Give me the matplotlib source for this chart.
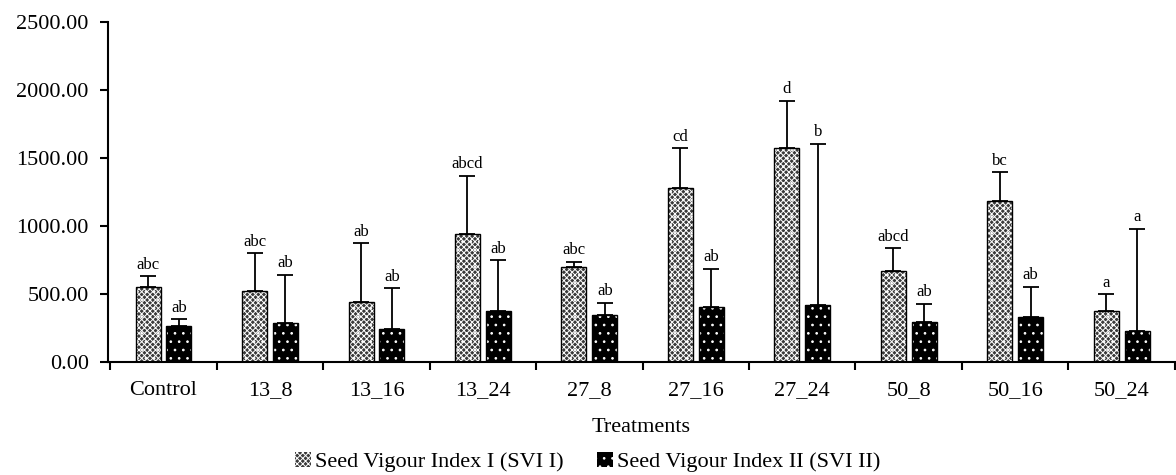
import numpy as np
import matplotlib
matplotlib.use("Agg")
import matplotlib.pyplot as plt
from matplotlib.patches import Patch

plt.rcParams['font.family'] = 'Liberation Serif'
plt.rcParams['hatch.linewidth'] = 0.7

# data:
# ------------------------
treatments = ['Control', '13_8', '13_16', '13_24', '27_8', '27_16', '27_24', '50_8', '50_16', '50_24']
svi1 = [549, 522, 443, 939, 701, 1277, 1571, 671, 1181, 377]
svi1_top = [632, 799, 875, 1368, 738, 1570, 1921, 838, 1395, 497]
svi2 = [267, 284, 240, 373, 346, 402, 419, 292, 329, 230]
svi2_top = [314, 640, 542, 748, 436, 686, 1603, 429, 554, 980]
svi1_letters = ['abc', 'abc', 'ab', 'abcd', 'abc', 'cd', 'd', 'abcd', 'bc', 'a']
svi2_letters = ['ab', 'ab', 'ab', 'ab', 'ab', 'ab', 'b', 'ab', 'ab', 'a']

svi1_err = np.array(svi1_top) - np.array(svi1)
svi2_err = np.array(svi2_top) - np.array(svi2)

fig = plt.figure(figsize=(11.76, 4.75), dpi=100)
ax = fig.add_axes([0.092, 0.238, 0.907, 0.716])

x = np.arange(len(treatments))
w = 0.235
off = 0.145

# SVI I: fine grey checker with white specks
ax.bar(x - off, svi1, w, color='#3a3a3a', edgecolor='white', hatch='xxxxxx', linewidth=0, zorder=2)
ax.bar(x - off, svi1, w, fill=False, edgecolor='white', hatch='..', linewidth=0, zorder=2)
ax.bar(x - off, svi1, w, fill=False, edgecolor='black', linewidth=1.0, zorder=3)
# SVI II: black with white dots
ax.bar(x + off, svi2, w, color='black', edgecolor='white', hatch='..', linewidth=0, zorder=2)
ax.bar(x + off, svi2, w, fill=False, edgecolor='black', linewidth=1.0, zorder=3)

ax.errorbar(x - off, svi1, yerr=[np.zeros(len(x)), svi1_err], fmt='none',
            ecolor='black', elinewidth=1.3, capsize=6, capthick=1.3, zorder=1)
ax.errorbar(x + off, svi2, yerr=[np.zeros(len(x)), svi2_err], fmt='none',
            ecolor='black', elinewidth=1.3, capsize=6, capthick=1.3, zorder=1)

for i in range(len(x)):
    ax.text(x[i] - off, svi1_top[i] + 25, svi1_letters[i], ha='center', va='bottom', fontsize=12)
    ax.text(x[i] + off, svi2_top[i] + 25, svi2_letters[i], ha='center', va='bottom', fontsize=12)

ax.set_ylim(0, 2500)
ax.set_xlim(-0.52, len(x) - 0.5)
ax.set_yticks(np.arange(0, 2501, 500))
ax.set_yticklabels(['%.2f' % v for v in np.arange(0, 2501, 500)], fontsize=16)
ax.set_xticks(x)
ax.set_xticklabels(treatments, fontsize=16)
ax.set_xticks(np.arange(-0.5, len(x), 1.0), minor=True)
ax.tick_params(axis='x', which='major', length=0, pad=14)
ax.tick_params(axis='x', which='minor', length=6, width=1.5, direction='out')
ax.tick_params(axis='y', length=6, width=1.5, direction='out', pad=8)
for s in ['top', 'right']:
    ax.spines[s].set_visible(False)
ax.spines['left'].set_linewidth(1.5)
ax.spines['bottom'].set_linewidth(1.5)

ax.set_xlabel('Treatments', fontsize=16, labelpad=13)

handles = [Patch(facecolor='#3a3a3a', edgecolor='white', hatch='xxxxxx', linewidth=0),
           Patch(facecolor='black', edgecolor='white', hatch='..', linewidth=0)]
fig.legend(handles, ['Seed Vigour Index I (SVI I)', 'Seed Vigour Index II (SVI II)'],
           loc='center', bbox_to_anchor=(0.5, 0.027), ncol=2, frameon=False, fontsize=16,
           handlelength=0.7, handleheight=0.7, handletextpad=0.2, columnspacing=1.5)

fig.savefig('out.png', dpi=100)
